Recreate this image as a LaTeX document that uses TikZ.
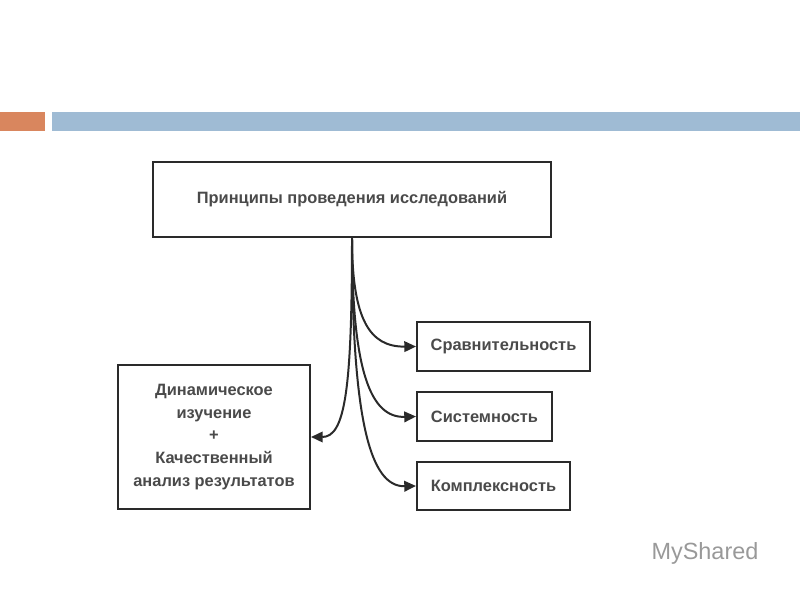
\documentclass[tikz,border=0pt]{standalone}
\usepackage{fontspec}
\setmainfont{Liberation Sans}
\usetikzlibrary{arrows.meta}
\definecolor{barO}{HTML}{D9865E}
\definecolor{barB}{HTML}{9FBBD4}
\definecolor{ink}{HTML}{2A2A2A}
\begin{document}
\begin{tikzpicture}[x=0.03cm,y=-0.03cm,
  box/.style={draw=ink,line width=1.7pt,inner sep=0pt,font=\fontsize{14}{19.5}\selectfont\bfseries,text=ink!85,align=center},
  conn/.style={draw=ink,line width=1.7pt,-{Triangle[length=10pt,width=9pt]}}]
\useasboundingbox (0,0) rectangle (800,600);
\fill[white] (0,0) rectangle (800,600);
\fill[barO] (0,112) rectangle (45,131);
\fill[barB] (52,112) rectangle (800,131);
\node[box,minimum width=398*0.03cm,minimum height=75*0.03cm] (top) at (352,199.5) {Принципы проведения исследований};
\node[box,minimum width=173*0.03cm,minimum height=49*0.03cm] (r1) at (503.5,346.5) {Сравнительность};
\node[box,minimum width=135*0.03cm,minimum height=49*0.03cm] (r2) at (484.5,416.5) {Системность};
\node[box,minimum width=153*0.03cm,minimum height=48*0.03cm] (r3) at (493.5,486) {Комплексность};
\node[box,minimum width=192*0.03cm,minimum height=144*0.03cm] (l) at (214,437) {Динамическое\\изучение\\+\\Качественный\\анализ результатов};
\draw[conn] (top.south) .. controls (352,320) and (370,347) .. (r1.west);
\draw[conn] (top.south) .. controls (352,370) and (370,418) .. (r2.west);
\draw[conn] (top.south) .. controls (352,420) and (370,487) .. (r3.west);
\draw[conn] (top.south) .. controls (352,390) and (345,437) .. (l.east);
\node[text=gray!80,font=\fontsize{20}{22}\selectfont] (ms) at (705,553) {MyShared};
\end{tikzpicture}
\end{document}
